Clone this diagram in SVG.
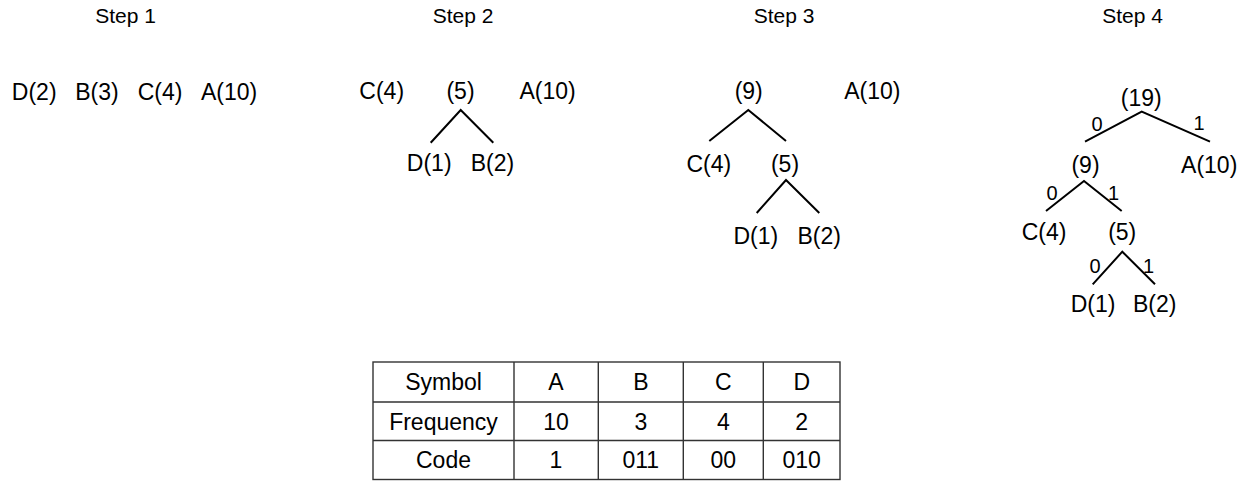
<svg xmlns="http://www.w3.org/2000/svg" width="1247" height="481" viewBox="0 0 1247 481">
<style>
text{font-family:"Liberation Sans",Arial,sans-serif;fill:#000;text-anchor:middle}
.step{font-size:21px}
.n{font-size:23px}
.e{font-size:20px}
.t{font-size:23px}
.edge{stroke:#000;stroke-width:2;fill:none}
.grid{stroke:#333;stroke-width:1.4;fill:none}
</style>
<rect width="1247" height="481" fill="#fff"/>
<g id="step-labels">
<text class="step" x="125.5" y="23">Step 1</text>
<text class="step" x="463" y="23">Step 2</text>
<text class="step" x="784" y="23">Step 3</text>
<text class="step" x="1132.5" y="23">Step 4</text>
</g>
<g id="step1">
<g id="s1-D"><text class="n" x="34.2" y="100">D(2)</text></g>
<g id="s1-B"><text class="n" x="97" y="100">B(3)</text></g>
<g id="s1-C"><text class="n" x="160" y="100">C(4)</text></g>
<g id="s1-A"><text class="n" x="229" y="100">A(10)</text></g>
</g>
<g id="step2">
<g id="s2-C"><text class="n" x="381.7" y="99">C(4)</text></g>
<g id="s2-5"><text class="n" x="460.5" y="99">(5)</text></g>
<g id="s2-A"><text class="n" x="547.5" y="99">A(10)</text></g>
<g id="s2-D"><text class="n" x="429.2" y="171">D(1)</text></g>
<g id="s2-B"><text class="n" x="492.5" y="171">B(2)</text></g>
</g>
<g id="step3">
<g id="s3-9"><text class="n" x="748.7" y="99">(9)</text></g>
<g id="s3-A"><text class="n" x="872.3" y="99">A(10)</text></g>
<g id="s3-C"><text class="n" x="708.8" y="172">C(4)</text></g>
<g id="s3-5"><text class="n" x="785" y="172">(5)</text></g>
<g id="s3-D"><text class="n" x="755.8" y="244">D(1)</text></g>
<g id="s3-B"><text class="n" x="819.2" y="244">B(2)</text></g>
</g>
<g id="step4">
<g id="s4-19"><text class="n" x="1141.2" y="106">(19)</text></g>
<g id="s4-9"><text class="n" x="1085.5" y="173">(9)</text></g>
<g id="s4-A"><text class="n" x="1209.2" y="173">A(10)</text></g>
<g id="s4-C"><text class="n" x="1044" y="240">C(4)</text></g>
<g id="s4-5"><text class="n" x="1122.2" y="240">(5)</text></g>
<g id="s4-D"><text class="n" x="1093" y="311.7">D(1)</text></g>
<g id="s4-B"><text class="n" x="1154.7" y="311.7">B(2)</text></g>
</g>
<g id="connectors">
<path class="edge" d="M430.7,142.7 L460.7,110 L493.3,142.7"/>
<path class="edge" d="M709.3,141 L748.3,110 L786,141"/>
<path class="edge" d="M756.7,213 L786,180 L819.3,213"/>
<path class="edge" d="M1085,141.7 L1141.7,111.7 L1210,141.7"/>
<path class="edge" d="M1046,211 L1084,181 L1121.7,211"/>
<path class="edge" d="M1092.7,284.3 L1122.3,251.7 L1155,284.3"/>
<text class="e" x="1097" y="131">0</text>
<text class="e" x="1199" y="130">1</text>
<text class="e" x="1052" y="200">0</text>
<text class="e" x="1113.5" y="200">1</text>
<text class="e" x="1095" y="273">0</text>
<text class="e" x="1148.5" y="273">1</text>
</g>
<g id="table">
<rect class="grid" x="373" y="362" width="467" height="117.5"/>
<path class="grid" d="M373,402H840M373,440.5H840M514,362V479.5M598.3,362V479.5M683.3,362V479.5M763.3,362V479.5"/>
<text class="t" x="443.5" y="390">Symbol</text>
<text class="t" x="556" y="390">A</text>
<text class="t" x="640.8" y="390">B</text>
<text class="t" x="723.3" y="390">C</text>
<text class="t" x="801.7" y="390">D</text>
<text class="t" x="443.5" y="429.5">Frequency</text>
<text class="t" x="556" y="429.5">10</text>
<text class="t" x="640.8" y="429.5">3</text>
<text class="t" x="723.3" y="429.5">4</text>
<text class="t" x="801.7" y="429.5">2</text>
<text class="t" x="443.5" y="468.3">Code</text>
<text class="t" x="556" y="468.3">1</text>
<text class="t" x="640.8" y="468.3">011</text>
<text class="t" x="723.3" y="468.3">00</text>
<text class="t" x="801.7" y="468.3">010</text>
</g>
</svg>
